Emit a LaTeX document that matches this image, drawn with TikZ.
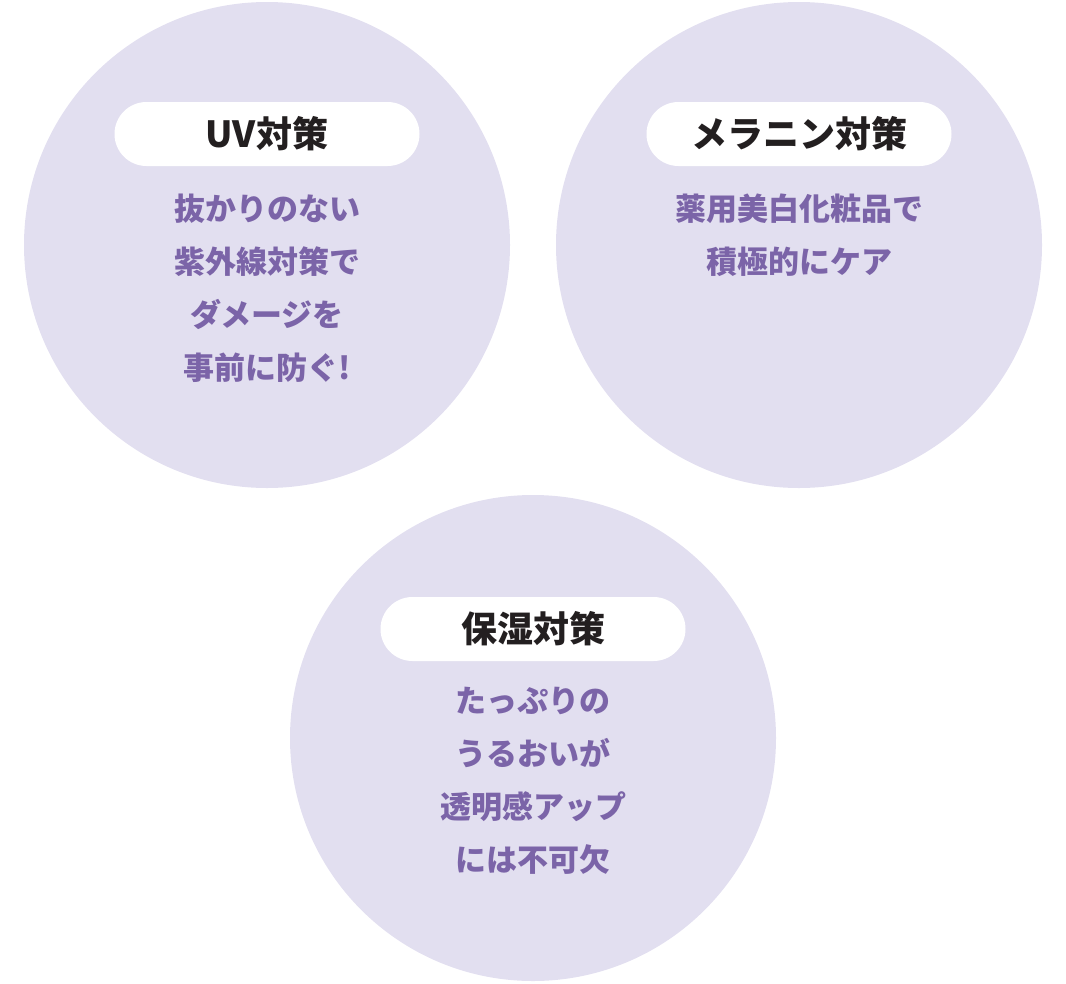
\documentclass[tikz,border=0pt]{standalone}
\usepackage{fontspec}
\newfontfamily\cjk{Noto Sans CJK JP}
\definecolor{circ}{HTML}{E2DFF0}
\definecolor{body}{HTML}{7B64A8}
\definecolor{ttl}{HTML}{231F20}
\begin{document}
\begin{tikzpicture}[x=1pt,y=-1pt,
  bubble/.style={circle,fill=circ,minimum size=486pt,inner sep=0pt},
  pill/.style={rounded corners=32pt,fill=white,minimum width=305pt,minimum height=64pt,inner sep=0pt,font=\cjk\bfseries\fontsize{36pt}{40pt}\selectfont,text=ttl},
  txt/.style={align=center,font=\cjk\bfseries\fontsize{31pt}{53pt}\selectfont,text=body,anchor=north}]
\useasboundingbox (0,0) rectangle (1066,983);
\node[bubble] (c1) at (267,245) {};
\node[bubble] (c2) at (799,245) {};
\node[bubble] (c3) at (533,738) {};
\node[pill] (p1) at (267,134) {UV対策};
\node[pill] (p2) at (799,134) {メラニン対策};
\node[pill] (p3) at (533,629) {保湿対策};
\node[txt] (t1) at (267,190) {抜かりのない\\紫外線対策で\\ダメージを\\事前に防ぐ!};
\node[txt] (t2) at (799,190) {薬用美白化粧品で\\積極的にケア};
\node[txt] (t3) at (533,684) {たっぷりの\\うるおいが\\透明感アップ\\には不可欠};
\end{tikzpicture}
\end{document}
